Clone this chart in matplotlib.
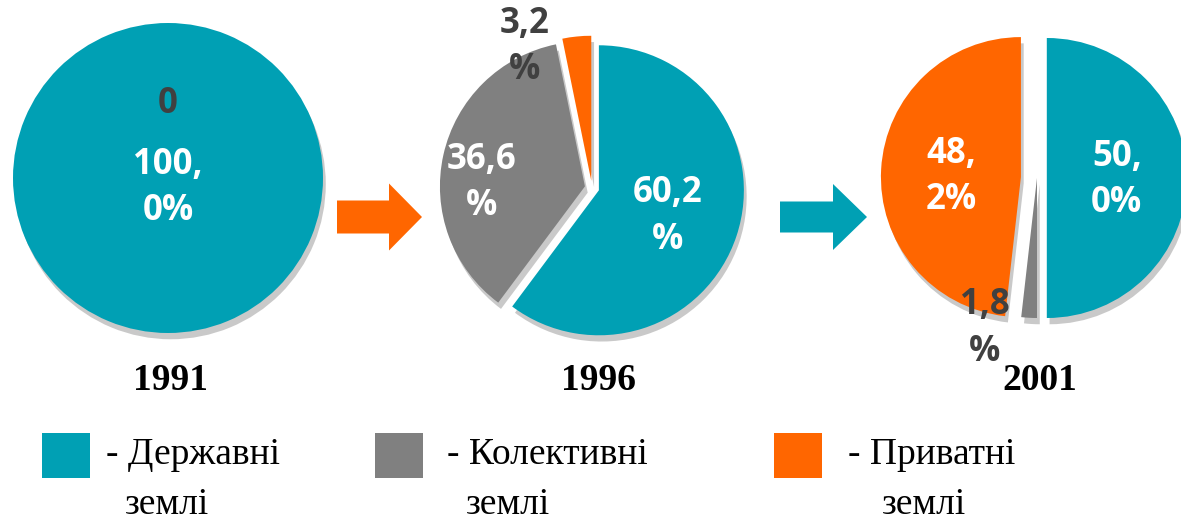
import numpy as np
import matplotlib.pyplot as plt
from matplotlib.patches import FancyArrow, Rectangle

# data: land ownership structure, %
years = ['1991', '1996', '2001']
state = [100.0, 60.2, 50.0]
collective = [0.0, 36.6, 1.8]
private = [0.0, 3.2, 48.2]
pct_labels = [['100,\n0%', '0', ''],
              ['60,2\n%', '36,6\n%', '3,2\n%'],
              ['50,\n0%', '1,8\n%', '48,\n2%']]
legend_names = ['- Державні', '- Колективні', '- Приватні']
legend_second = ['землі', 'землі', 'землі']

colors = ['#00A0B4', '#808080', '#FF6600']
dark = '#404040'

W, H = 1181, 521
fig = plt.figure(figsize=(W / 100, H / 100), dpi=100)
ax = fig.add_axes([0, 0, 1, 1])

# layout of each pie in pixels (center, radius, explode as share of radius,
# label angle/dist, label colours)
pies = [
    dict(c=(168, 178), r=155, explode=[0, 0, 0],
         lab=[(-90, 0.065), (90, 0.48), (90, 0.48)], lc=['white', dark, dark]),
    dict(c=(592, 188), r=145, explode=[0.05, 0.05, 0.05],
         lab=[(-21, 0.555), (177.4, 0.76), (115.4, 1.077)], lc=['white', 'white', dark]),
    dict(c=(1037, 178), r=140, explode=[0.07, 0, 0.115],
         lab=[(-1.4, 0.57), (250.9, 1.135), (179.3, 0.61)], lc=['white', dark, 'white']),
]

for i, p in enumerate(pies):
    vals = [state[i], collective[i], private[i]]
    cx, cy = p['c'][0], H - p['c'][1]
    ax.pie(vals, colors=colors, startangle=90, counterclock=False,
           center=(cx, cy), radius=p['r'], explode=[e * p['r'] for e in p['explode']],
           shadow=dict(ox=2, oy=-4.5, facecolor='#888888', edgecolor='none', alpha=0.45),
           wedgeprops=dict(linewidth=0), frame=True)
    for j, txt in enumerate(pct_labels[i]):
        if not txt:
            continue
        a, d = p['lab'][j]
        x = cx + d * p['r'] * np.cos(np.radians(a))
        y = cy + d * p['r'] * np.sin(np.radians(a))
        ax.text(x, y, txt, ha='center', va='center', ma='center', fontsize=25,
                fontweight='bold', family='Open Sans', color=p['lc'][j],
                linespacing=1.4, zorder=5)

# years under the pies
year_x = [171, 599, 1040]
for yr, x in zip(years, year_x):
    ax.text(x, H - 380, yr, ha='center', va='center', fontsize=27,
            fontweight='bold', family='Liberation Serif', color='black', zorder=6)

# arrows between pies
ax.add_patch(FancyArrow(337, H - 217, 85, 0, width=33, head_width=67, head_length=33,
                        length_includes_head=True, color=colors[2], linewidth=0))
ax.add_patch(FancyArrow(780, H - 217, 87, 0, width=31, head_width=66, head_length=34,
                        length_includes_head=True, color=colors[0], linewidth=0))

# legend
box_x = [42, 375, 774]
name_x = [106, 447, 848]
second_x = [125, 466, 882]
for k in range(3):
    ax.add_patch(Rectangle((box_x[k], H - 478), 48, 45, color=colors[k], linewidth=0))
    ax.text(name_x[k], H - 455, legend_names[k], ha='left', va='center', fontsize=27,
            family='Liberation Serif', color='black')
    ax.text(second_x[k], H - 505, legend_second[k], ha='left', va='center', fontsize=27,
            family='Liberation Serif', color='black')

ax.set_xlim(0, W)
ax.set_ylim(0, H)
ax.axis('off')

fig.savefig('out.png', dpi=100)
